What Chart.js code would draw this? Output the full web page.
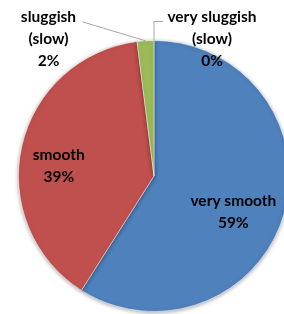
<!DOCTYPE html>
<html>
<head>
<meta charset="utf-8">
<script src="https://cdn.jsdelivr.net/npm/chart.js@4"></script>
<style>
  html, body { margin: 0; padding: 0; background: #fff; overflow: hidden; }
  #wrap { width: 284px; height: 314px; overflow: hidden; position: relative; }
  #box { position: absolute; left: 0; top: 0; width: 308px; height: 314px; }
</style>
</head>
<body>
<div id="wrap"><div id="box"><canvas id="pieChart"></canvas></div></div>
<script>
// ============================================
// DATA
// ============================================
const categories = ['very smooth', 'smooth', 'sluggish (slow)', 'very sluggish (slow)'];
const labelLines = [['very smooth'], ['smooth'], ['sluggish', '(slow)'], ['very sluggish', '(slow)']];
const shares = [59, 39, 2, 0];
const sliceColors = ['#4F81BD', '#C0504D', '#9BBB59', '#8064A2'];

// label placement per slice: inside (radial fraction) or outside (offset from edge point)
const placement = [
    { inside: true, f: 0.61, dy: 13 },
    { inside: true, f: 0.72, dy: 11 },
    { inside: false, tx: -97, ty: -24, elbowX: -63 },
    { inside: false, tx: 58, ty: -24, elbowY: -19 }
];

const FONT = 'bold 15.5px Lato, "Open Sans", sans-serif';
const LINE_H = 22;

const shadowPlugin = {
    id: 'pieShadow',
    beforeDatasetsDraw(chart) {
        const ctx = chart.ctx;
        ctx.save();
        ctx.shadowColor = 'rgba(0,0,0,0.35)';
        ctx.shadowBlur = 4;
        ctx.shadowOffsetY = 1;
    },
    afterDatasetsDraw(chart) {
        chart.ctx.restore();
    }
};

const labelPlugin = {
    id: 'sliceLabels',
    afterDraw(chart) {
        const ctx = chart.ctx;
        const meta = chart.getDatasetMeta(0);
        ctx.save();
        ctx.font = FONT;
        ctx.fillStyle = '#000';
        ctx.textAlign = 'center';
        ctx.textBaseline = 'middle';
        meta.data.forEach((arc, i) => {
            const p = placement[i];
            const mid = (arc.startAngle + arc.endAngle) / 2;
            const cx = arc.x, cy = arc.y, r = arc.outerRadius;
            const lines = labelLines[i].concat([shares[i] + '%']);
            let x, y;
            if (p.inside) {
                x = cx + Math.cos(mid) * r * p.f;
                y = cy + Math.sin(mid) * r * p.f + p.dy;
            } else {
                const ex = cx + Math.cos(mid) * r;
                const ey = cy + Math.sin(mid) * r;
                x = ex + p.tx;
                y = ey + p.ty;
                // leader line
                ctx.strokeStyle = '#A6A6A6';
                ctx.lineWidth = 1;
                ctx.beginPath();
                ctx.moveTo(ex, ey);
                if (p.elbowY !== undefined) {
                    ctx.lineTo(ex, ey + p.elbowY);
                    ctx.lineTo(ex + 9, ey + p.elbowY);
                } else {
                    ctx.lineTo(ex + p.elbowX, ey + p.elbowX * 0.3);
                }
                ctx.stroke();
                y = y + LINE_H;
            }
            const top = y - (lines.length - 1) * LINE_H / 2;
            lines.forEach((t, k) => ctx.fillText(t, x, top + k * LINE_H));
        });
        ctx.restore();
    }
};

const pieChart = new Chart(document.getElementById('pieChart'), {
    type: 'pie',
    data: {
        labels: categories,
        datasets: [{
            data: shares,
            backgroundColor: sliceColors,
            borderColor: 'rgba(255,255,255,0.5)',
            borderWidth: 1
        }]
    },
    options: {
        responsive: true,
        maintainAspectRatio: false,
        animation: false,
        layout: { padding: { top: 40, bottom: 2, left: 18, right: 18 } },
        plugins: {
            legend: { display: false },
            tooltip: { enabled: false }
        }
    },
    plugins: [shadowPlugin, labelPlugin]
});
</script>
</body>
</html>
